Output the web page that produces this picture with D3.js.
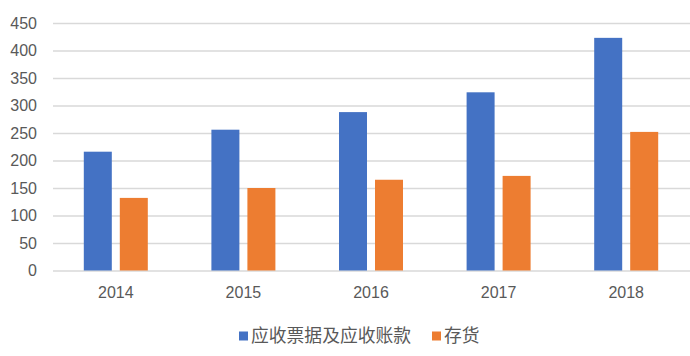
<!DOCTYPE html>
<html><head><meta charset="utf-8">
<script src="https://cdn.jsdelivr.net/npm/d3@7"></script>
<style>body{margin:0;background:#fff;} svg{display:block;}</style>
</head><body>
<svg id="c" width="690" height="356"></svg>
<script>
const categories = ["2014","2015","2016","2017","2018"];
const seriesNames = ["应收票据及应收账款","存货"];
const receivables = [216, 256, 288, 324, 423];
const inventory = [132, 150, 165, 172, 252];
const yTicks = [0,50,100,150,200,250,300,350,400,450];
const colors = ["#4472C4","#ED7D31"];

const svg = d3.select("#c");
const font = "'Liberation Sans', Arial, sans-serif";
const x = d3.scaleBand().domain(categories).range([52,690]).paddingInner(0).paddingOuter(0);
const y = d3.scaleLinear().domain([0,450]).range([270.5,23]);
const grpOff = (x.bandwidth()-64)/2;
const xs = d3.scaleBand().domain([0,1]).range([grpOff, grpOff+64]).paddingInner(8/36).paddingOuter(0);

// gridlines
const yAxis = d3.axisLeft(y).tickValues(yTicks).tickSize(-(690-53)).tickPadding(16);
const gy = svg.append("g").attr("transform","translate(53,0)").call(yAxis);
gy.select(".domain").remove();
gy.selectAll(".tick line").attr("stroke","#d9d9d9").attr("stroke-width",1.3);
gy.selectAll(".tick text").attr("fill","#595959").attr("font-size",16).attr("font-family",font);

// bars
const data = [receivables, inventory];
data.forEach((vals,si)=>{
  svg.append("g").selectAll("rect").data(vals).join("rect")
    .attr("x",(d,i)=>x(categories[i])+xs(si))
    .attr("width",xs.bandwidth())
    .attr("y",d=>y(d))
    .attr("height",d=>y(0)-y(d))
    .attr("fill",colors[si]);
});

// x axis
const xAxis = d3.axisBottom(x).tickSize(0).tickPadding(16);
const gx = svg.append("g").attr("transform",`translate(0,${y(0)})`).call(xAxis);
gx.select(".domain").remove();
gx.selectAll(".tick text").attr("fill","#595959").attr("font-size",16).attr("font-family",font);

// legend
const legX = [239, 432];
seriesNames.forEach((n,i)=>{
  const g = svg.append("g").attr("transform",`translate(${legX[i]},336)`);
  g.append("rect").attr("x",0).attr("y",-4.5).attr("width",9).attr("height",9).attr("fill",colors[i]);
  g.append("text").attr("x",12).attr("y",0).attr("dy","0.36em").text(n)
    .attr("fill","#595959").attr("font-size",17.8).attr("font-family","'Noto Sans CJK SC', sans-serif");
});
</script>
</body></html>
